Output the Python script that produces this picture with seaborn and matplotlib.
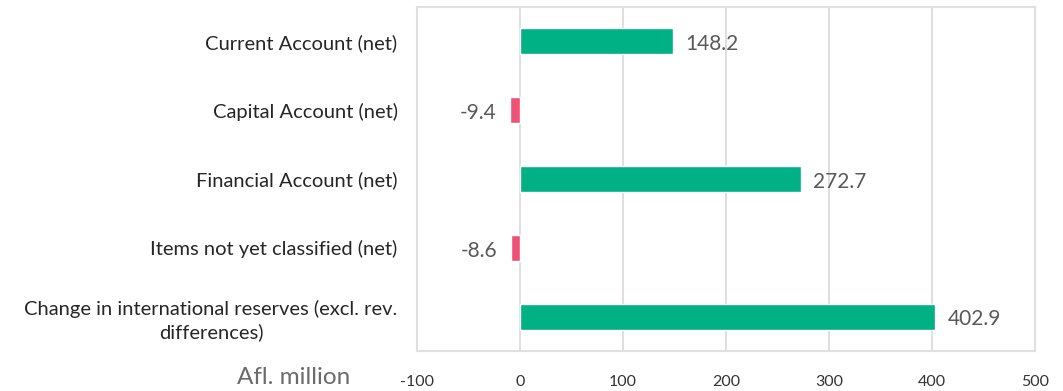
import matplotlib
matplotlib.use("Agg")
import matplotlib.pyplot as plt
import seaborn as sns
import pandas as pd

categories = [
    "Current Account (net)",
    "Capital Account (net)",
    "Financial Account (net)",
    "Items not yet classified (net)",
    "Change in international reserves (excl. rev.\ndifferences)",
]
values = [148.2, -9.4, 272.7, -8.6, 402.9]
x_ticks = [-100, 0, 100, 200, 300, 400, 500]
axis_unit = "Afl. million"

GREEN = "#00B186"
PINK = "#EE5277"

sns.set_theme(style="white")
plt.rcParams["font.family"] = ["Lato", "DejaVu Sans"]

df = pd.DataFrame({"category": categories, "value": values})
colors = {c: (GREEN if v >= 0 else PINK) for c, v in zip(categories, values)}

fig = plt.figure(figsize=(10.63, 3.91), dpi=100)
ax = fig.add_axes([417 / 1063, 1 - 351 / 391, (1035 - 417) / 1063, (351 - 7) / 391])

sns.barplot(data=df, y="category", x="value", hue="category", palette=colors,
            orient="h", width=0.38, legend=False, ax=ax, saturation=1)

ax.set_xlim(-100, 500)
ax.set_ylim(len(categories) - 0.5, -0.5)
ax.set_xticks(x_ticks)
ax.set_xticklabels([str(t) for t in x_ticks], fontsize=11.5, color="#333333")
ax.tick_params(axis="x", length=0, pad=17)
ax.tick_params(axis="y", length=0, pad=14)
for lbl in ax.get_yticklabels():
    lbl.set_fontsize(14.5)
    lbl.set_color("#262626")
    lbl.set_multialignment("center")
    lbl.set_linespacing(1.35)
ax.set_xlabel("")
ax.set_ylabel("")

ax.grid(axis="x", color="#D9D9D9", linewidth=1.2)
ax.set_axisbelow(True)
for s in ax.spines.values():
    s.set_color("#E0E0E0")
    s.set_linewidth(1.5)

for i, v in enumerate(values):
    if v >= 0:
        ax.annotate(f"{v:.1f}", xy=(v, i), xytext=(9, -2), textcoords="offset points",
                    ha="left", va="center", fontsize=15, color="#595959")
    else:
        ax.annotate(f"{v:.1f}", xy=(v, i), xytext=(-10, -2), textcoords="offset points",
                    ha="right", va="center", fontsize=15, color="#595959")

fig.text(294 / 1063, 1 - 378 / 391, axis_unit, ha="center", va="center",
         fontsize=17.5, color="#6B6B6B")

fig.savefig("out.png", dpi=100)
